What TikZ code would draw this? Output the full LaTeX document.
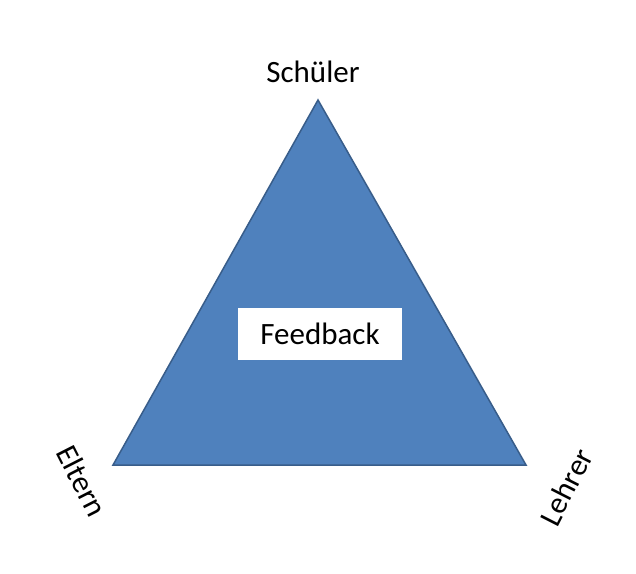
\documentclass[tikz,border=0pt]{standalone}
\usepackage{fontspec}
\setmainfont{Carlito}
\definecolor{tri}{HTML}{4F81BD}
\definecolor{triedge}{HTML}{385D8A}
\begin{document}
\begin{tikzpicture}[x=1pt,y=-1pt,
  lbl/.style={font=\fontsize{31}{35}\selectfont, inner sep=0pt}]
\useasboundingbox[fill=white] (0,0) rectangle (636,573);
\coordinate (top) at (318,100);
\coordinate (bl) at (113,465);
\coordinate (br) at (526,465);
\fill[tri,draw=triedge,line width=1.5pt] (top) -- (br) -- (bl) -- cycle;
\node[fill=white, minimum width=164pt, minimum height=52pt, lbl] (fb) at (320,334) {Feedback};
\node[lbl] (s) at (313,72) {Schüler};
\node[lbl, rotate=-63] (e) at (82,481) {Eltern};
\node[lbl, rotate=63] (l) at (566,487) {Lehrer};
\end{tikzpicture}
\end{document}
